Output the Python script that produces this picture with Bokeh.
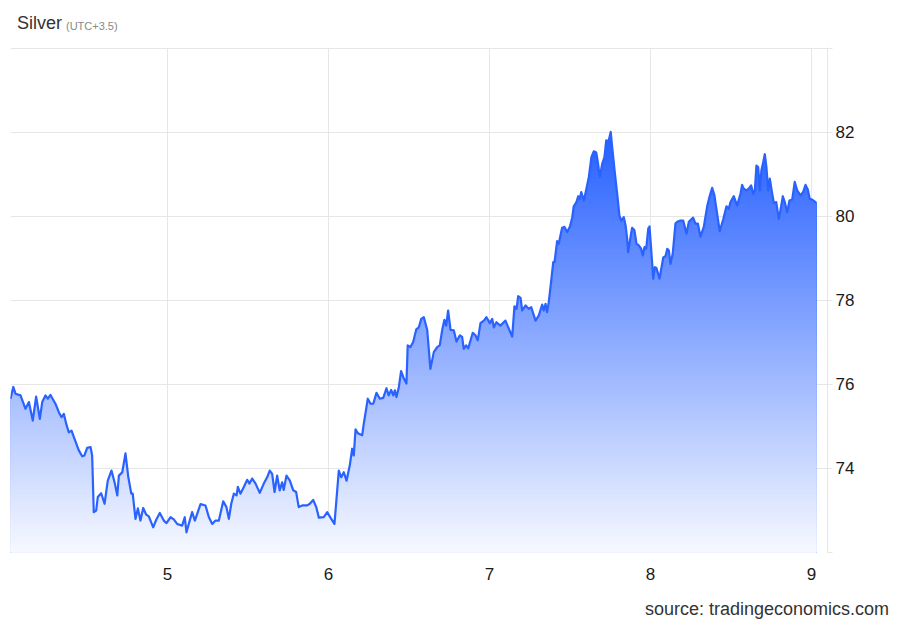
import numpy as np
from bokeh.plotting import figure
from bokeh.models import Range1d, FixedTicker, Div
from bokeh.layouts import column
from bokeh.embed import file_html
from bokeh.resources import INLINE

# ---- data (day of month, silver price) ----
DAYS = [
    4.025, 4.042, 4.056, 4.087, 4.118, 4.139, 4.163, 4.184, 4.207, 4.222,
    4.242, 4.257, 4.273, 4.304, 4.325, 4.342, 4.356, 4.371, 4.387, 4.404,
    4.422, 4.449, 4.470, 4.484, 4.501, 4.522, 4.532, 4.542, 4.557, 4.567,
    4.588, 4.609, 4.629, 4.652, 4.673, 4.688, 4.698, 4.719, 4.739, 4.756,
    4.775, 4.784, 4.801, 4.816, 4.832, 4.849, 4.868, 4.884, 4.911, 4.930,
    4.952, 4.977, 4.994, 5.019, 5.039, 5.060, 5.091, 5.107, 5.118, 5.132,
    5.153, 5.170, 5.205, 5.236, 5.257, 5.278, 5.298, 5.319, 5.346, 5.366,
    5.381, 5.396, 5.412, 5.429, 5.437, 5.453, 5.474, 5.495, 5.509, 5.526,
    5.547, 5.573, 5.598, 5.619, 5.635, 5.650, 5.665, 5.681, 5.697, 5.712,
    5.722, 5.739, 5.760, 5.781, 5.799, 5.815, 5.837, 5.868, 5.884, 5.905,
    5.924, 5.940, 5.971, 5.992, 6.012, 6.037, 6.064, 6.079, 6.095, 6.112,
    6.132, 6.147, 6.157, 6.168, 6.182, 6.209, 6.219, 6.244, 6.261, 6.278,
    6.298, 6.319, 6.340, 6.360, 6.374, 6.389, 6.402, 6.412, 6.422, 6.437,
    6.451, 6.468, 6.484, 6.492, 6.509, 6.526, 6.545, 6.561, 6.576, 6.592,
    6.613, 6.633, 6.654, 6.675, 6.691, 6.706, 6.720, 6.731, 6.743, 6.758,
    6.778, 6.795, 6.816, 6.830, 6.840, 6.855, 6.868, 6.896, 6.913, 6.927,
    6.944, 6.965, 6.981, 7.002, 7.017, 7.027, 7.043, 7.068, 7.099, 7.120,
    7.141, 7.155, 7.168, 7.178, 7.193, 7.203, 7.224, 7.244, 7.259, 7.286,
    7.306, 7.327, 7.337, 7.348, 7.358, 7.368, 7.379, 7.396, 7.404, 7.420,
    7.430, 7.451, 7.466, 7.482, 7.499, 7.514, 7.523, 7.540, 7.551, 7.561,
    7.570, 7.586, 7.602, 7.617, 7.633, 7.648, 7.663, 7.673, 7.685, 7.700,
    7.714, 7.725, 7.735, 7.743, 7.753, 7.762, 7.778, 7.793, 7.807, 7.818,
    7.834, 7.845, 7.855, 7.861, 7.876, 7.886, 7.900, 7.913, 7.927, 7.942,
    7.952, 7.963, 7.973, 7.986, 7.994, 8.004, 8.017, 8.027, 8.037, 8.056,
    8.079, 8.093, 8.104, 8.114, 8.124, 8.138, 8.155, 8.166, 8.186, 8.203,
    8.224, 8.238, 8.265, 8.279, 8.294, 8.310, 8.331, 8.352, 8.366, 8.383,
    8.397, 8.414, 8.430, 8.451, 8.472, 8.486, 8.497, 8.517, 8.538, 8.559,
    8.569, 8.579, 8.596, 8.610, 8.625, 8.638, 8.648, 8.658, 8.669, 8.679,
    8.689, 8.700, 8.710, 8.720, 8.731, 8.741, 8.756, 8.766, 8.781, 8.797,
    8.807, 8.822, 8.834, 8.849, 8.863, 8.880, 8.896, 8.911, 8.932, 8.948,
    8.963, 8.977, 8.989, 9.004, 9.029,
]
PRICES = [
    75.66, 75.94, 75.78, 75.74, 75.42, 75.58, 75.14, 75.71, 75.18, 75.58,
    75.74, 75.66, 75.75, 75.54, 75.34, 75.22, 75.30, 75.06, 74.86, 74.90,
    74.71, 74.43, 74.29, 74.31, 74.49, 74.51, 74.31, 72.96, 73.00, 73.32,
    73.41, 73.16, 73.71, 73.95, 73.64, 73.36, 73.83, 73.91, 74.36, 73.81,
    73.40, 73.40, 72.80, 73.05, 72.76, 73.06, 72.90, 72.86, 72.60, 72.78,
    72.94, 72.76, 72.70, 72.84, 72.79, 72.68, 72.64, 72.84, 72.48, 72.68,
    72.96, 72.76, 73.15, 73.12, 72.84, 72.68, 72.76, 72.76, 73.22, 73.08,
    72.80, 73.16, 73.40, 73.36, 73.56, 73.40, 73.56, 73.73, 73.64, 73.76,
    73.64, 73.42, 73.64, 73.79, 73.95, 73.87, 73.44, 73.83, 73.48, 73.67,
    73.49, 73.83, 73.71, 73.48, 73.44, 73.08, 73.12, 73.12, 73.16, 73.25,
    73.08, 72.83, 72.84, 72.96, 72.83, 72.68, 73.95, 73.79, 73.91, 73.71,
    74.07, 74.47, 74.31, 74.93, 74.84, 74.79, 75.06, 75.66, 75.54, 75.54,
    75.80, 75.66, 75.68, 75.91, 75.74, 75.87, 75.74, 75.86, 75.70, 75.94,
    76.32, 76.14, 76.02, 76.93, 76.89, 77.01, 77.31, 77.36, 77.56, 77.60,
    77.30, 76.37, 76.77, 76.89, 76.93, 77.29, 77.54, 77.40, 77.76, 77.30,
    77.29, 77.02, 77.17, 77.13, 76.85, 76.93, 76.86, 77.23, 77.17, 77.05,
    77.46, 77.52, 77.60, 77.46, 77.56, 77.36, 77.48, 77.40, 77.52, 77.33,
    77.14, 77.86, 77.80, 78.10, 78.06, 77.76, 77.88, 77.80, 77.84, 77.52,
    77.64, 77.90, 77.76, 77.92, 77.72, 77.96, 78.32, 78.91, 78.91, 79.41,
    79.35, 79.73, 79.75, 79.63, 79.75, 79.98, 80.24, 80.34, 80.48, 80.42,
    80.58, 80.38, 80.66, 80.94, 81.41, 81.55, 81.52, 81.29, 80.94, 81.25,
    81.41, 81.81, 81.77, 81.85, 82.01, 81.65, 81.06, 80.54, 80.02, 79.90,
    79.98, 79.79, 79.47, 79.15, 79.51, 79.73, 79.67, 79.35, 79.31, 79.23,
    79.07, 79.27, 79.23, 79.71, 79.76, 79.23, 78.52, 78.79, 78.77, 78.52,
    79.02, 79.05, 79.23, 79.19, 78.87, 79.11, 79.83, 79.87, 79.90, 79.90,
    79.59, 79.87, 79.97, 79.83, 79.83, 79.52, 79.75, 80.24, 80.46, 80.68,
    80.50, 80.06, 79.65, 79.92, 80.24, 80.18, 80.34, 80.48, 80.26, 80.54,
    80.75, 80.66, 80.62, 80.66, 80.74, 80.54, 80.62, 81.21, 81.17, 80.62,
    81.10, 81.29, 81.48, 81.17, 80.62, 80.90, 80.54, 80.32, 80.34, 79.94,
    80.14, 80.48, 80.34, 80.10, 80.38, 80.40, 80.82, 80.62, 80.50, 80.58,
    80.75, 80.64, 80.42, 80.40, 80.33,
]
X_TICKS = [5, 6, 7, 8, 9]
Y_TICKS = [72, 74, 76, 78, 80, 82, 84]
Y_LABELS = {72: "", 74: "74", 76: "76", 78: "78", 80: "80", 82: "82", 84: ""}
TITLE = "Silver"
SUBTITLE = "(UTC+3.5)"
SOURCE = "source: tradingeconomics.com"

FONT = "Liberation Sans"
BLUE = (41, 98, 255)

header = Div(
    text=(
        '<div style="position:relative;width:900px;height:45px;">'
        '<span style="position:absolute;left:17px;top:14px;font-family:\'Liberation Sans\';'
        'font-size:18px;line-height:19px;color:#333333;white-space:nowrap;">' + TITLE + '</span>'
        '<span style="position:absolute;left:66px;top:21px;font-family:\'Liberation Sans\';'
        'font-size:11px;line-height:11px;color:#888888;white-space:nowrap;">' + SUBTITLE + '</span>'
        '</div>'
    ),
    width=900, height=45, margin=(0, 0, 0, 0),
)

p = figure(width=900, height=537, output_backend="svg", toolbar_location=None,
           x_range=Range1d(4.0248, 9.0994), y_range=Range1d(72.0, 84.02),
           y_axis_location="right", margin=(0, 0, 0, 0),
           min_border_left=10, min_border_right=73, min_border_top=2, min_border_bottom=30)
p.background_fill_color = "white"
p.border_fill_color = "white"
p.outline_line_color = None

# gradient fill under the curve, built from horizontal colour bands
x = np.array(DAYS)
y = np.array(PRICES)
base = 72.0
edges = np.arange(72.0, 82.25, 0.1)
for k in reversed(range(len(edges) - 1)):
    mid = 0.5 * (edges[k] + edges[k + 1])
    f = min(max((mid - 71.6) / (81.8 - 71.6), 0.0), 1.0)
    r = int(round(255 + (BLUE[0] - 255) * f))
    g = int(round(255 + (BLUE[1] - 255) * f))
    b = int(round(255 + (BLUE[2] - 255) * f))
    p.varea(x=x, y1=base, y2=np.minimum(y, edges[k + 1]),
            fill_color="#%02x%02x%02x" % (r, g, b))

p.line(x, y, line_color="#2962ff", line_width=2.2, line_join="round")

# axes
xa = p.xaxis[0]
xa.ticker = FixedTicker(ticks=X_TICKS)
xa.axis_line_color = None
xa.major_tick_line_color = None
xa.minor_tick_line_color = None
xa.major_label_standoff = 9
xa.major_label_text_font = FONT
xa.major_label_text_font_size = "17px"
xa.major_label_text_color = "#1a1a1a"

ya = p.yaxis[0]
ya.ticker = FixedTicker(ticks=Y_TICKS)
ya.major_label_overrides = Y_LABELS
ya.axis_line_color = "#e6e6e6"
ya.major_tick_line_color = "#e6e6e6"
ya.major_tick_out = 5
ya.major_tick_in = 0
ya.minor_tick_line_color = None
ya.major_label_standoff = 3
ya.major_label_text_font = FONT
ya.major_label_text_font_size = "17px"
ya.major_label_text_color = "#1a1a1a"

p.xgrid.ticker = FixedTicker(ticks=X_TICKS)
p.ygrid.ticker = FixedTicker(ticks=Y_TICKS)
p.xgrid.grid_line_color = "#e6e6e6"
p.ygrid.grid_line_color = "#e6e6e6"

footer = Div(
    text=(
        '<div style="position:relative;width:900px;height:42px;">'
        '<span style="position:absolute;left:645px;top:18px;font-family:\'Liberation Sans\';'
        'font-size:18px;line-height:18px;color:#333333;white-space:nowrap;">' + SOURCE + '</span>'
        '</div>'
    ),
    width=900, height=42, margin=(0, 0, 0, 0),
)

layout = column(header, p, footer, spacing=0, margin=(0, 0, 0, 0))
open("out.html", "w").write(file_html(layout, INLINE))
